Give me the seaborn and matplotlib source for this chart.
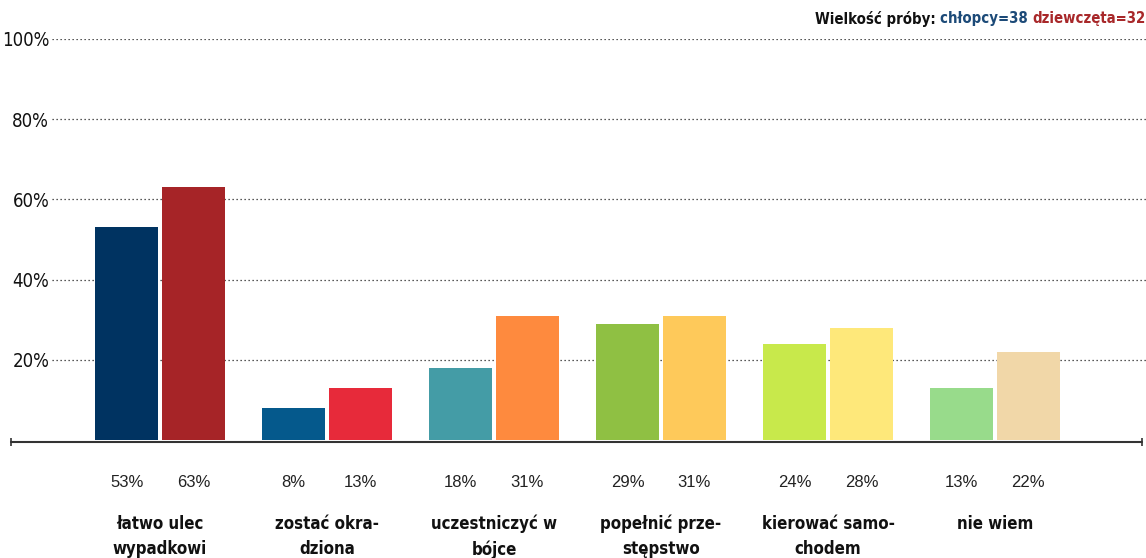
import matplotlib
matplotlib.use('Agg')
import matplotlib.pyplot as plt
from matplotlib import font_manager as fm
import pandas as pd
import seaborn as sns

# data
kategorie = ['łatwo ulec\nwypadkowi', 'zostać okra-\ndziona', 'uczestniczyć w\nbójce',
             'popełnić prze-\nstępstwo', 'kierować samo-\nchodem', 'nie wiem']
chlopcy = [53, 8, 18, 29, 24, 13]
dziewczeta = [63, 13, 31, 31, 28, 22]
kolory_chlopcy = ['#003361', '#05598c', '#449ca6', '#8fc043', '#c8e94b', '#98db8b']
kolory_dziewczeta = ['#a62427', '#e72a3a', '#fe8a3e', '#fec95a', '#fee87a', '#f1d7a8']
y_ticks = [20, 40, 60, 80, 100]

df = pd.DataFrame({'kategoria': kategorie * 2,
                   'płeć': ['chłopcy'] * 6 + ['dziewczęta'] * 6,
                   'procent': chlopcy + dziewczeta})

sns.set_style('white')
plt.rcParams['font.family'] = ['Liberation Sans', 'DejaVu Sans']

# look for some narrow face, the original uses an Arial Narrow look
narrow, stretch, shrink = 'Liberation Sans', 'normal', 0.8
for f in fm.fontManager.ttflist:
    if 'Narrow' in f.name or 'Condensed' in f.name or \
            f.stretch in ('condensed', 'semi-condensed', 'extra-condensed', 600, 700):
        narrow, stretch, shrink = f.name, f.stretch, 0.86
        break

W, H = 1146, 558
fig = plt.figure(figsize=(W / 100, H / 100), dpi=100)
ax = fig.add_axes([52 / W, (H - 440) / H, (W - 52) / W, (440 - 39) / H])

sns.barplot(data=df, x='kategoria', y='procent', hue='płeć', order=kategorie,
            hue_order=['chłopcy', 'dziewczęta'], width=0.8, gap=0.06,
            errorbar=None, legend=False, ax=ax, zorder=3)

for cont, cols in zip(ax.containers, [kolory_chlopcy, kolory_dziewczeta]):
    for bar, c in zip(cont, cols):
        bar.set_facecolor(c)
        bar.set_edgecolor('none')
        # value below the axis
        ax.text(bar.get_x() + bar.get_width() / 2, -10.5, f'{bar.get_height():.0f}%',
                ha='center', va='center', fontsize=12, color='#222222', clip_on=False)

ax.set_ylim(0, 100)
ax.set_xlim((52 - 160) / 167, (1146 - 160) / 167)
ax.set_yticks(y_ticks, [f'{v}%' for v in y_ticks])
ax.tick_params(axis='y', length=0, pad=2)
for lab in ax.get_yticklabels():
    lab.set_family([narrow, 'DejaVu Sans'])
    lab.set_stretch(stretch)
    lab.set_fontsize(15.5 * shrink)
    lab.set_color('#111111')
ax.set_xticks([])
ax.set_xlabel('')
ax.set_ylabel('')
ax.set_axisbelow(True)
ax.yaxis.grid(True, color='#222222', linestyle=(0, (1, 2.2)), linewidth=0.9)
for s in ax.spines.values():
    s.set_visible(False)

# baseline running under the whole chart
x0, x1 = (11 - 160) / 167, (1142 - 160) / 167
ax.plot([x0, x1], [-0.4, -0.4], color='#333333', lw=1.5, clip_on=False, zorder=4)
ax.plot([x0, x1], [-0.4, -0.4], ls='none', marker='|', ms=6, mew=1.2,
        color='#333333', clip_on=False, zorder=4)

for i, k in enumerate(kategorie):
    ax.text(i, -18.6, k, ha='center', va='top', fontsize=14 * shrink, fontweight='bold',
            family=[narrow, 'DejaVu Sans'], stretch=stretch, color='#111111',
            linespacing=1.5, clip_on=False)

# sample size note, top right
fig.canvas.draw()
r = fig.canvas.get_renderer()
x = 1.0
for txt, col in [('dziewczęta=32', '#a8282a'), ('chłopcy=38 ', '#1c4a78'),
                 ('Wielkość próby: ', '#111111')]:
    t = fig.text(x, 1 - 19 / H, txt, ha='right', va='center', fontsize=12.5 * shrink,
                 fontweight='bold', family=[narrow, 'DejaVu Sans'], stretch=stretch,
                 color=col)
    bb = t.get_window_extent(r)
    x = bb.x0 / fig.bbox.width

fig.savefig('out.png', dpi=100)
